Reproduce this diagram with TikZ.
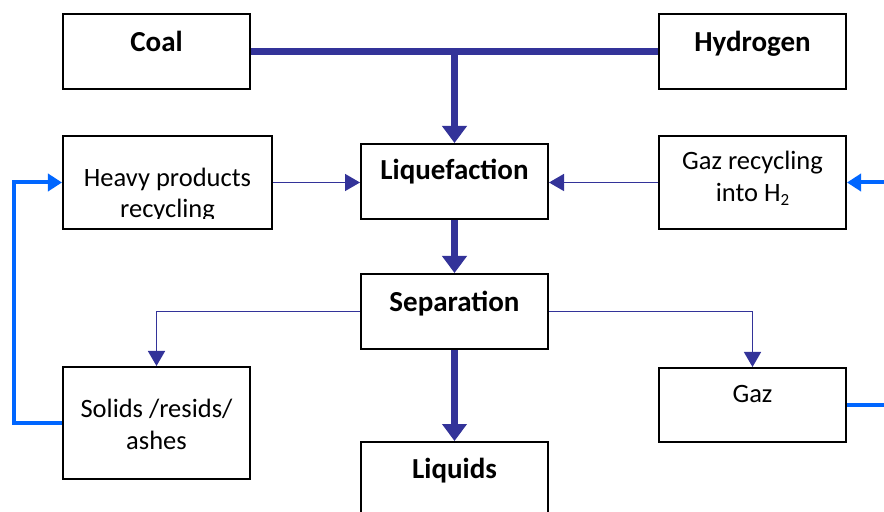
\documentclass[tikz,border=0pt]{standalone}
\usepackage{fontspec}
\setmainfont{Carlito}
\usetikzlibrary{arrows.meta,calc}
\definecolor{dblue}{RGB}{51,51,153}
\definecolor{lblue}{RGB}{0,102,255}
\begin{document}
\begin{tikzpicture}[x=1bp,y=-1bp,
  box/.style={draw=black, line width=2bp, rectangle, inner sep=0pt, minimum width=187bp, minimum height=75bp},
  bt/.style={anchor=base, inner sep=0pt, font=\fontsize{29bp}{33bp}\selectfont\bfseries},
  rt/.style={anchor=base, inner sep=0pt, font=\fontsize{26.5bp}{31bp}\selectfont},
  mainline/.style={draw=dblue, line width=7bp},
  thickflow/.style={draw=dblue, line width=7bp, -{Triangle[length=17bp,width=24bp]}},
  thinflow/.style={draw=dblue, line width=1.5bp, -{Triangle[length=15bp,width=17bp]}},
  recycle/.style={draw=lblue, line width=4bp},
  recyclearrow/.style={draw=lblue, line width=4bp, -{Triangle[length=14bp,width=17bp]}}]
\clip (0,0) rectangle (884,512);
\fill[white] (0,0) rectangle (884,512);

% boxes
\node[box] (coal) at (156.5,51.5) {};
\node[box] (hydrogen) at (752.5,51.5) {};
\node[box, minimum width=209bp, minimum height=93bp] (heavy) at (167.5,182.5) {};
\node[box] (liq) at (454.5,181.5) {};
\node[box, minimum height=93bp] (gazrec) at (752.5,182.5) {};
\node[box] (sep) at (454.5,311.5) {};
\node[box, minimum height=112bp] (solids) at (156.5,423) {};
\node[box, minimum height=74bp] (gaz) at (752.5,405) {};
\node[box] (liquids) at (454.5,479.5) {};

% texts
\node[bt] (tcoal) at (156.5,52) {Coal};
\node[bt] (thyd) at (752.5,52) {Hydrogen};
\node[bt] (tliq) at (454.5,180) {Liquefaction};
\node[bt] (tsep) at (454.5,312) {Separation};
\node[bt] (tliquids) at (454.5,478) {Liquids};
\node[rt] (theavy1) at (167.5,187) {Heavy products};
\begin{scope}
  \clip (60,190) rectangle (280,219);
  \node[rt] (theavy2) at (167.5,218) {recycling};
\end{scope}
\node[rt] (tgazrec1) at (752.5,170) {Gaz recycling};
\node[rt] (tgazrec2) at (752.5,202) {into H\raisebox{-0.28ex}{\fontsize{17bp}{17bp}\selectfont 2}};
\node[rt] (tsolids1) at (156.5,417) {Solids /resids/};
\node[rt] (tsolids2) at (156.5,449) {ashes};
\node[rt] (tgaz) at (752.5,402) {Gaz};

% free ends
\coordinate (rin) at (886,182.5);
\coordinate (rout) at (886,405);

% main flow
\draw[mainline] (coal.east) -- (hydrogen.west);
\draw[thickflow] (coal.east -| liq.north) -- (liq.north);
\draw[thickflow] (liq.south) -- (sep.north);
\draw[thickflow] (sep.south) -- (liquids.north);

% thin flows
\draw[thinflow] (heavy.east) -- (liq.west |- heavy.east);
\draw[thinflow] (gazrec.west) -- (liq.east |- gazrec.west);
\draw[thinflow] (sep.west) -| (solids.north);
\draw[thinflow] (sep.east) -| (gaz.north);

% recycling
\draw[recyclearrow] (solids.west) -- ($(solids.west)+(-48,0)$) |- (heavy.west);
\draw[recyclearrow] (rin) -- (gazrec.east);
\draw[recycle] (gaz.east) -- (rout);
\end{tikzpicture}
\end{document}
